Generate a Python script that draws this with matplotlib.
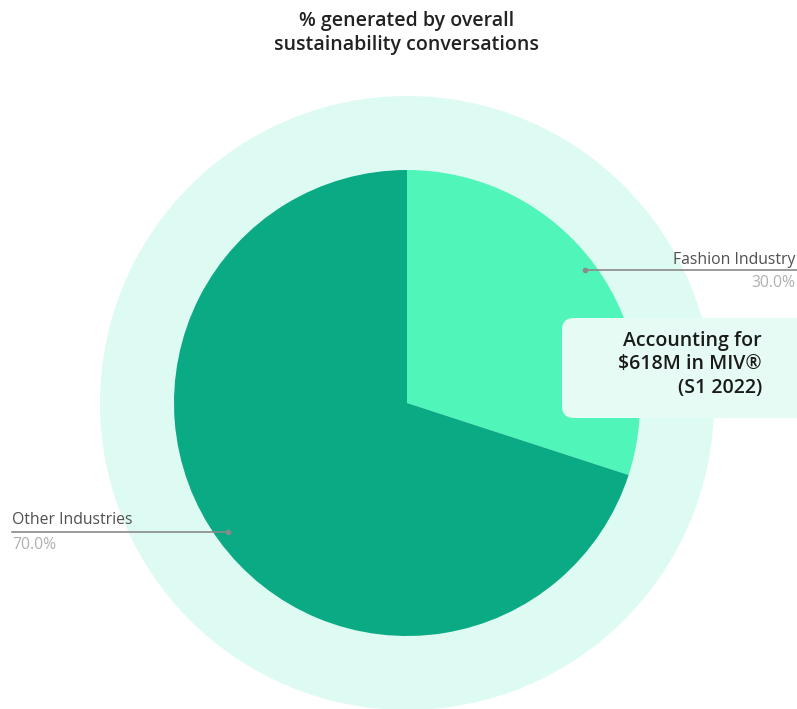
import matplotlib.pyplot as plt
from matplotlib import patches

# share of sustainability conversations
labels = ['Fashion Industry', 'Other Industries']
shares = [30.0, 70.0]
slice_colors = ['#50f5b9', '#0aab84']

title_lines = ['% generated by overall', 'sustainability conversations']
callout_lines = ['Accounting for', '$618M in MIV®', '(S1 2022)']

W, H = 797, 709


def py(y):
    """Pixel row (from the top) to data y."""
    return H - y


fig = plt.figure(figsize=(W / 100, H / 100), dpi=100)
ax = fig.add_axes([0, 0, 1, 1])

cx, cy, r = 407, py(403), 233

# soft halo behind the pie
halo = patches.Circle((cx, cy), 307, facecolor='#ddfbf2', edgecolor='none', zorder=0)
ax.add_patch(halo)

wedges, _ = ax.pie(shares, colors=slice_colors, startangle=90, counterclock=False,
                   center=(cx, cy), radius=r, frame=True,
                   wedgeprops=dict(linewidth=0))
for w in wedges:
    w.set_zorder(2)

ax.set_xlim(0, W)
ax.set_ylim(0, H)
ax.set_aspect('equal')
ax.axis('off')

# title
font_title = ['Open Sans', 'DejaVu Sans']
ax.text(407, py(21), title_lines[0], ha='center', va='center', fontsize=14,
        family=font_title, weight='semibold', color='#222222')
ax.text(407, py(45), title_lines[1], ha='center', va='center', fontsize=14,
        family=font_title, weight='semibold', color='#222222')

# leader lines with labels
font_lbl = ['Open Sans', 'DejaVu Sans']
ax.plot([585, W], [py(270), py(270)], color='#8a8a8a', lw=1.2, zorder=3)
ax.plot([585], [py(270)], 'o', color='#8a8a8a', ms=3, zorder=3)
ax.text(795, py(260), labels[0], ha='right', va='center', fontsize=11.3,
        family=font_lbl, color='#505050')
ax.text(795, py(283), f'{shares[0]:.1f}%', ha='right', va='center', fontsize=11.3,
        family=font_lbl, color='#b0b0b0')

ax.plot([12, 228], [py(532), py(532)], color='#8a8a8a', lw=1.2, zorder=3)
ax.plot([228], [py(532)], 'o', color='#8a8a8a', ms=3, zorder=3)
ax.text(12, py(520), labels[1], ha='left', va='center', fontsize=11.3,
        family=font_lbl, color='#505050')
ax.text(12, py(545), f'{shares[1]:.1f}%', ha='left', va='center', fontsize=11.3,
        family=font_lbl, color='#b0b0b0')

# callout box
box = patches.FancyBboxPatch((562, py(418)), 280, 100,
                             boxstyle='round,pad=0,rounding_size=12',
                             facecolor='#e6fbf3', edgecolor='none', zorder=4)
ax.add_patch(box)
for i, line in enumerate(callout_lines):
    ax.text(762, py(341 + 23.5 * i), line, ha='right', va='center', fontsize=14,
            family=font_title, weight='semibold', color='#1a1a1a', zorder=5)

fig.savefig('out.png', dpi=100)
